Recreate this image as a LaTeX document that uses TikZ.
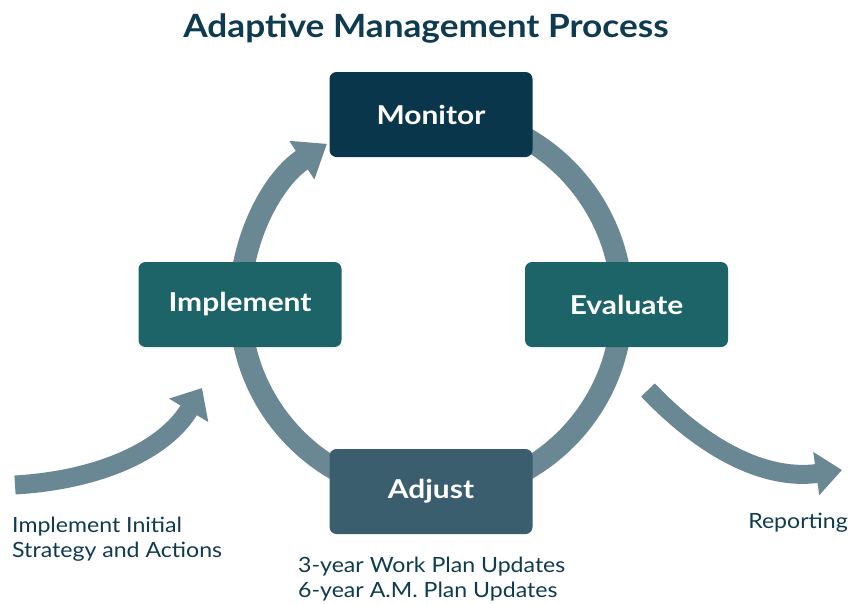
\documentclass[tikz,border=0pt]{standalone}
\usepackage{fontspec}
\setmainfont{Lato}
\newfontfamily\titlefont[FakeStretch=1.1]{Lato}
\newfontfamily\lblfont[FakeStretch=1.15]{Lato}
\newfontfamily\notefont[FakeStretch=1.1]{Lato}
\usetikzlibrary{arrows.meta}
\definecolor{ringc}{HTML}{6A8894}
\definecolor{monc}{HTML}{0A364B}
\definecolor{tealc}{HTML}{1D6469}
\definecolor{adjc}{HTML}{3B5E6E}
\definecolor{txtc}{HTML}{0F3B50}
\tikzset{
  stepbox/.style={rounded corners=7pt, minimum width=203pt, minimum height=85pt, inner sep=0pt,
    text=white, font=\lblfont\fontsize{26}{28}\selectfont\bfseries},
  ring/.style={draw=ringc, line width=22pt},
  sidearrow/.style={draw=ringc, line width=19pt},
  note/.style={text=txtc, font=\notefont\fontsize{21}{25}\selectfont, inner sep=0pt}
}
\begin{document}
\begin{tikzpicture}[x=1pt,y=-1pt]
\useasboundingbox (0,0) rectangle (852,603);
% ring
\coordinate (c) at (431,304);
\draw[ring] ([shift={(-80:191)}]c) arc[start angle=-80, end angle=180, radius=191];
\draw[ring, -{Triangle[length=30pt,width=44pt]}] ([shift={(180:191)}]c) arc[start angle=180, end angle=237, radius=191];
% boxes
\node[stepbox, fill=monc] (mon) at (431,114.5) {Monitor};
\node[stepbox, fill=tealc] (imp) at (240,304.5) {Implement};
\node[stepbox, fill=tealc] (eva) at (626.5,304.5) {Evaluate};
\node[stepbox, fill=adjc] (adj) at (431,491.5) {Adjust};
% title
\node[text=txtc, font=\titlefont\fontsize{32}{36}\selectfont\bfseries, anchor=base] (title) at (426,37) {Adaptive Management Process};
% side arrows
\coordinate (s1) at (15,485);
\coordinate (e1) at (202,388);
\draw[sidearrow, -{Triangle[length=26pt,width=44pt]}] (s1) .. controls (100,480) and (165,450) .. (e1);
\coordinate (s2) at (648,390);
\coordinate (e2) at (842,470);
\draw[sidearrow, -{Triangle[length=26pt,width=42pt]}] (s2) .. controls (710,455) and (770,480) .. (e2);
% notes
\node[note, anchor=base west, align=left] (n1) at (12,557) {Implement Initial\\Strategy and Actions};
\node[note, anchor=base east] (n2) at (848,528) {Reporting};
\node[note, anchor=base west, align=left] (n3) at (298,597) {3-year Work Plan Updates\\6-year A.M. Plan Updates};
\end{tikzpicture}
\end{document}
